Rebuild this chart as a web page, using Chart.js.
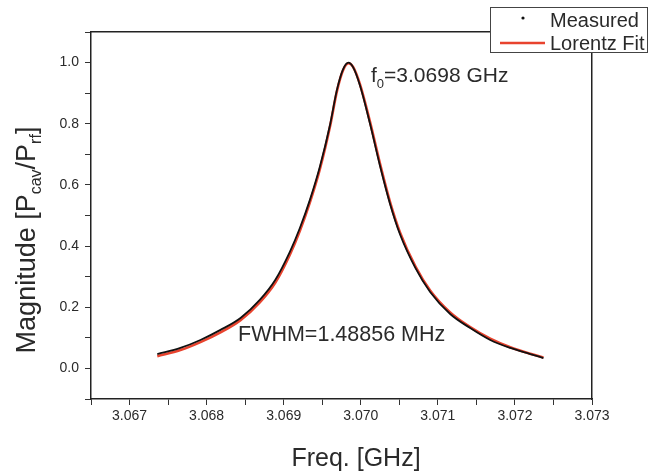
<!DOCTYPE html>
<html>
<head>
<meta charset="utf-8">
<script src="https://cdn.jsdelivr.net/npm/chart.js@4/dist/chart.umd.min.js"></script>
<style>
  html, body { margin: 0; padding: 0; background: #fff; }
  #wrap { width: 656px; height: 474px; }
</style>
</head>
<body>
<div id="wrap"><canvas id="lorentz-canvas" width="656" height="474"></canvas></div>
<script>
// values (GHz, normalised magnitude)
const measured_freq = [3.06736, 3.06766, 3.06792, 3.06818, 3.06844, 3.06869, 3.06889, 3.06908, 3.06921, 3.06934,
    3.06947, 3.06960, 3.06969, 3.06977, 3.06984, 3.06990, 3.06999, 3.07012, 3.07025, 3.07038,
    3.07051, 3.07071, 3.07090, 3.07116, 3.07142, 3.07168, 3.07194, 3.07220, 3.07237];
const measured_mag = [0.047, 0.067, 0.093, 0.126, 0.165, 0.224, 0.289, 0.381, 0.459, 0.551,
    0.660, 0.795, 0.910, 0.978, 1.000, 0.985, 0.925, 0.800, 0.662, 0.538,
    0.438, 0.328, 0.250, 0.178, 0.132, 0.093, 0.067, 0.047, 0.034];
const fit_freq = [3.06736, 3.06766, 3.06792, 3.06818, 3.06844, 3.06869, 3.06889, 3.06908, 3.06921, 3.06934,
    3.06947, 3.06960, 3.06969, 3.06977, 3.06984, 3.06990, 3.06999, 3.07012, 3.07025, 3.07038,
    3.07051, 3.07071, 3.07090, 3.07116, 3.07142, 3.07168, 3.07194, 3.07220, 3.07237];
const fit_mag = [0.040, 0.060, 0.086, 0.118, 0.158, 0.216, 0.280, 0.372, 0.450, 0.543,
    0.652, 0.790, 0.906, 0.975, 0.998, 0.986, 0.929, 0.806, 0.669, 0.544,
    0.444, 0.333, 0.255, 0.183, 0.135, 0.097, 0.069, 0.048, 0.036];

const x_min = 3.0665, x_max = 3.073;
const y_min = -0.1, y_max = 1.1;

const font_family = '"Liberation Sans", Arial, sans-serif';
const text_color = '#2a2a2a';
const fit_color = '#e8432e';

const toPoints = (xs, ys) => xs.map((x, i) => ({ x: x, y: ys[i] }));

// y title with subscripts, x title, annotations and the legend box
const extras = {
    id: 'extras',
    afterDraw(chart) {
        const ctx = chart.ctx;
        ctx.save();
        ctx.fillStyle = text_color;
        ctx.textBaseline = 'alphabetic';

        function runs(parts, x0, y0) {
            let x = x0;
            for (const p of parts) {
                ctx.font = p.size + 'px ' + font_family;
                ctx.fillText(p.t, x, y0 + (p.dy || 0));
                x += ctx.measureText(p.t).width;
            }
        }
        function width(parts) {
            let w = 0;
            for (const p of parts) {
                ctx.font = p.size + 'px ' + font_family;
                w += ctx.measureText(p.t).width;
            }
            return w;
        }

        // y axis title
        const yt = [
            { t: 'Magnitude [P', size: 27 },
            { t: 'cav', size: 16, dy: 6 },
            { t: '/P', size: 27 },
            { t: 'rf', size: 16, dy: 6 },
            { t: ']', size: 27 }
        ];
        ctx.save();
        ctx.translate(35, 240);
        ctx.rotate(-Math.PI / 2);
        runs(yt, -width(yt) / 2, 0);
        ctx.restore();

        // x axis title
        const xt = [{ t: 'Freq. [GHz]', size: 25 }];
        runs(xt, 356 - width(xt) / 2, 466);

        // f0 annotation
        runs([
            { t: 'f', size: 21 },
            { t: '0', size: 13, dy: 6 },
            { t: '=3.0698 GHz', size: 21 }
        ], 371, 82);

        // FWHM annotation
        runs([{ t: 'FWHM=1.48856 MHz', size: 21.5 }], 238, 341);

        // legend
        ctx.fillStyle = '#fff';
        ctx.fillRect(490, 7, 158, 45);
        ctx.strokeStyle = '#444';
        ctx.lineWidth = 1;
        ctx.strokeRect(490.5, 7.5, 157, 45);
        ctx.fillStyle = '#111';
        ctx.beginPath();
        ctx.arc(523, 18, 1.6, 0, Math.PI * 2);
        ctx.fill();
        ctx.strokeStyle = fit_color;
        ctx.lineWidth = 2.5;
        ctx.beginPath();
        ctx.moveTo(500, 43);
        ctx.lineTo(545, 43);
        ctx.stroke();
        ctx.fillStyle = text_color;
        runs([{ t: 'Measured', size: 20 }], 550, 27);
        runs([{ t: 'Lorentz Fit', size: 20 }], 550, 50);
        ctx.restore();
    }
};

const lorentz_config = {
    type: 'scatter',
    data: {
        datasets: [
            {
                label: 'Measured',
                data: toPoints(measured_freq, measured_mag),
                showLine: true,
                borderColor: '#111',
                borderWidth: 1.8,
                pointRadius: 0,
                cubicInterpolationMode: 'monotone',
                order: 0
            },
            {
                label: 'Lorentz Fit',
                data: toPoints(fit_freq, fit_mag),
                showLine: true,
                borderColor: fit_color,
                borderWidth: 2.6,
                pointRadius: 0,
                cubicInterpolationMode: 'monotone',
                order: 1
            }
        ]
    },
    options: {
        responsive: false,
        animation: false,
        devicePixelRatio: 1,
        layout: { padding: 0 },
        plugins: {
            legend: { display: false },
            tooltip: { enabled: false }
        },
        scales: {
            x: {
                type: 'linear',
                position: 'bottom',
                min: x_min,
                max: x_max,
                afterFit: (s) => { s.height = 75; },
                border: { display: true, color: '#222', width: 1.5 },
                grid: { drawOnChartArea: false, drawTicks: true, tickLength: 6, tickColor: '#333' },
                ticks: {
                    stepSize: 0.0005,
                    autoSkip: false,
                    maxRotation: 0,
                    padding: 3,
                    color: text_color,
                    font: { family: font_family, size: 14 },
                    callback: (v) => Math.round(v * 2000) % 2 === 0 ? v.toFixed(3) : ''
                }
            },
            x2: {
                type: 'linear',
                position: 'top',
                min: x_min,
                max: x_max,
                afterFit: (s) => { s.height = 32; },
                border: { display: true, color: '#222', width: 1.5 },
                grid: { display: false },
                ticks: { display: false }
            },
            y: {
                type: 'linear',
                position: 'left',
                min: y_min,
                max: y_max,
                afterFit: (s) => { s.width = 91; },
                border: { display: true, color: '#222', width: 1.5 },
                grid: { drawOnChartArea: false, drawTicks: true, tickLength: 6, tickColor: '#333' },
                ticks: {
                    stepSize: 0.1,
                    autoSkip: false,
                    padding: 6,
                    color: text_color,
                    font: { family: font_family, size: 14 },
                    callback: (v) => {
                        const k = Math.round(v * 10);
                        return (k % 2 === 0 && k >= 0 && k <= 10) ? (k / 10).toFixed(1) : '';
                    }
                }
            },
            y2: {
                type: 'linear',
                position: 'right',
                min: y_min,
                max: y_max,
                afterFit: (s) => { s.width = 64; },
                border: { display: true, color: '#222', width: 1.5 },
                grid: { display: false },
                ticks: { display: false }
            }
        }
    },
    plugins: [extras]
};

const lorentz_ctx = document.getElementById('lorentz-canvas');
new Chart(lorentz_ctx, lorentz_config);
</script>
</body>
</html>
